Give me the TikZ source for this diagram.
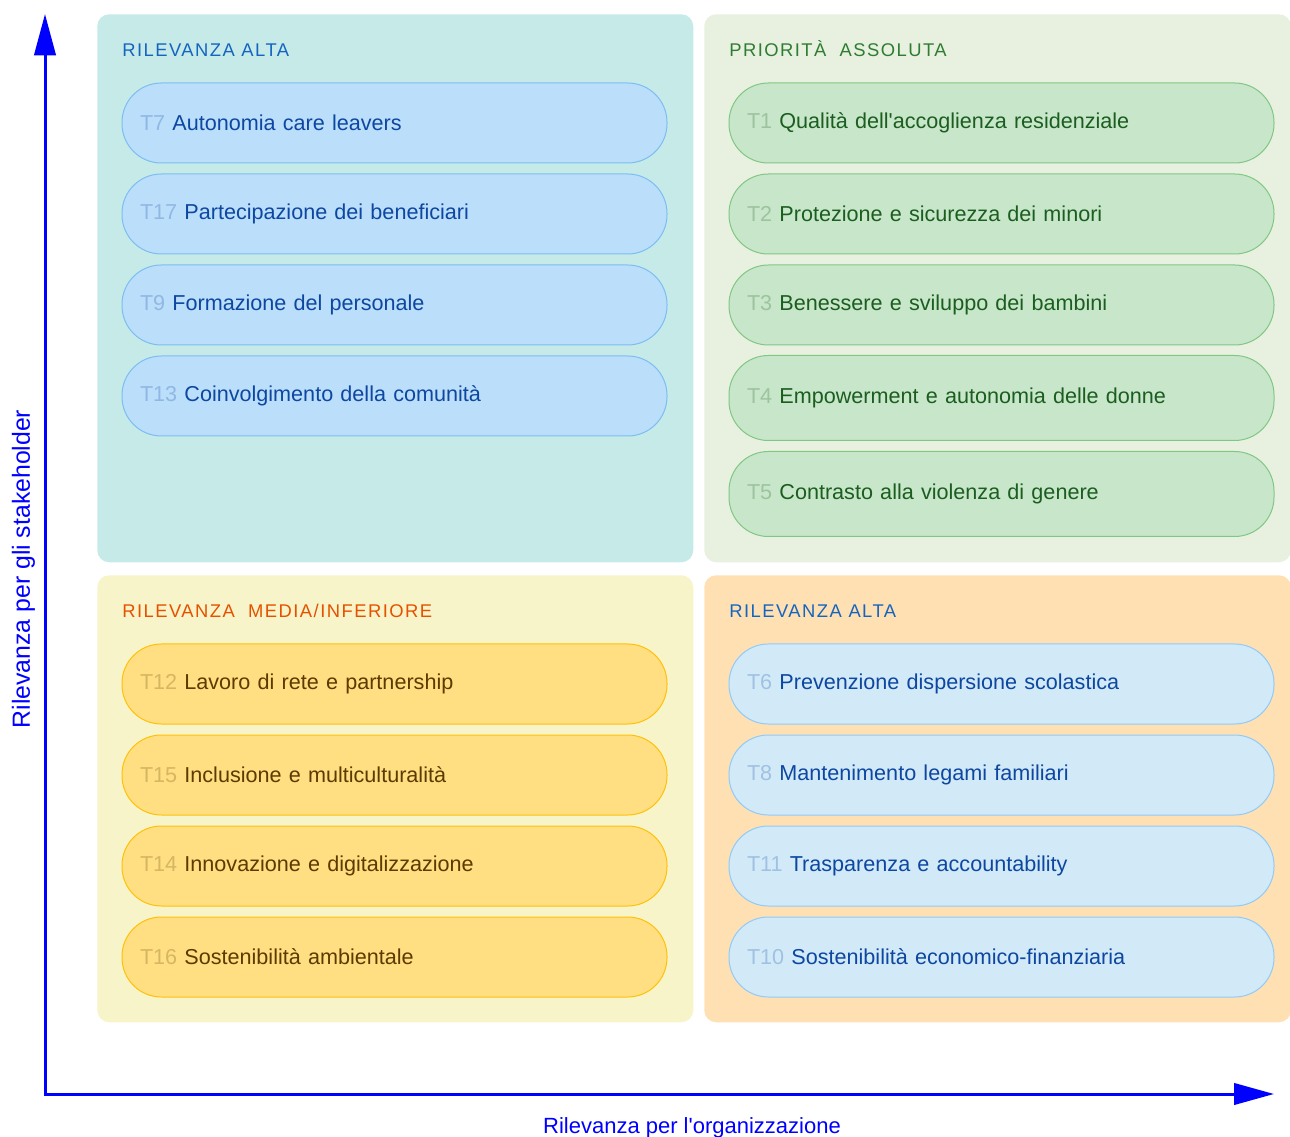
\documentclass[tikz,border=0pt]{standalone}
\usepackage{fontspec}
\setmainfont{Liberation Sans}
\usetikzlibrary{arrows.meta}

\definecolor{axisBlue}{HTML}{0000FF}
\definecolor{tlBack}{HTML}{C6EAE8}
\definecolor{tlFill}{HTML}{BBDEFA}
\definecolor{tlLine}{HTML}{7CBDF3}
\definecolor{tlText}{HTML}{0D47A1}
\definecolor{tlHead}{HTML}{1565C0}
\definecolor{trBack}{HTML}{E8F0DF}
\definecolor{trFill}{HTML}{C8E6C9}
\definecolor{trLine}{HTML}{81C784}
\definecolor{trText}{HTML}{1B5E20}
\definecolor{trHead}{HTML}{2E7D32}
\definecolor{blBack}{HTML}{F8F4C9}
\definecolor{blFill}{HTML}{FFDF82}
\definecolor{blLine}{HTML}{FFC107}
\definecolor{blText}{HTML}{5D3A00}
\definecolor{blHead}{HTML}{E65100}
\definecolor{brBack}{HTML}{FFE0B2}
\definecolor{brFill}{HTML}{D2EAF8}
\definecolor{brLine}{HTML}{90CAF9}
\definecolor{brText}{HTML}{0D47A1}
\definecolor{brHead}{HTML}{1565C0}
\colorlet{tlPre}{tlText!25!tlFill}
\colorlet{trPre}{trText!25!trFill}
\colorlet{blPre}{blText!25!blFill}
\colorlet{brPre}{brText!25!brFill}

\begin{document}
\begin{tikzpicture}[x=0.75pt, y=-0.75pt]
    \tikzstyle{quadrant}=[rectangle, rounded corners=9pt, anchor=north west, inner sep=0pt]
    \tikzstyle{heading}=[anchor=base west, inner sep=0pt, font=\fontsize{13.8}{16}\selectfont\addfontfeature{LetterSpace=8}]
    \tikzstyle{pill}=[rectangle, rounded corners=29.5pt, line width=0.75pt, minimum width=408.75pt, text width=381.75pt, inner xsep=13.5pt, align=left, font=\fontsize{16.2}{20}\selectfont]
    \tikzstyle{axis}=[draw=axisBlue, line width=2.25pt, {Triangle[length=31pt, width=16pt]}-{Triangle[length=30pt, width=16pt]}]
    \tikzstyle{axislabel}=[inner sep=0pt, text=axisBlue, anchor=base]

    \clip (0,0) rectangle (1290,1137);

    % quadrants
    \foreach \name/\x/\y/\w/\h in {tl/97/14/447/411, tr/704/14/440/411, bl/97/575/447/335.25, br/704/575/440/335.25}
    \node[quadrant, fill=\name Back, minimum width=\w pt, minimum height=\h pt] (Q-\name) at (\x,\y) {};

    \node[heading, text=tlHead] (H-tl) at (122,57) {RILEVANZA ALTA};
    \node[heading, text=trHead] (H-tr) at (729,57) {PRIORITÀ\ \ ASSOLUTA};
    \node[heading, text=blHead] (H-bl) at (122,618) {RILEVANZA\ \ MEDIA/INFERIORE};
    \node[heading, text=brHead] (H-br) at (729,618) {RILEVANZA ALTA};

    % topics
    \foreach \name/\q/\x/\y/\h/\txt in {
        7/tl/394.5/123/60/Autonomia care leavers,
        17/tl/394.5/214/60/Partecipazione dei beneficiari,
        9/tl/394.5/305/60/Formazione del personale,
        13/tl/394.5/396/60/Coinvolgimento della comunità,
        1/tr/1001.5/123/60/Qualità dell\textquotesingle{}accoglienza residenziale,
        2/tr/1001.5/214/60/Protezione e sicurezza dei minori,
        3/tr/1001.5/305/60/Benessere e sviluppo dei bambini,
        4/tr/1001.5/398/63.75/Empowerment e autonomia delle donne,
        5/tr/1001.5/494/63.75/Contrasto alla violenza di genere,
        12/bl/394.5/684/60/Lavoro di rete e partnership,
        15/bl/394.5/775/60/Inclusione e multiculturalità,
        14/bl/394.5/866/60/Innovazione e digitalizzazione,
        16/bl/394.5/957/60/Sostenibilità ambientale,
        6/br/1001.5/684/60/Prevenzione dispersione scolastica,
        8/br/1001.5/775/60/Mantenimento legami familiari,
        11/br/1001.5/866/60/Trasparenza e accountability,
        10/br/1001.5/957/60/Sostenibilità economico-finanziaria}
    \node[pill, fill=\q Fill, draw=\q Line, text=\q Text, minimum height=\h pt] (T-\name) at (\x,\y) {\textcolor{\q Pre}{T\name} \txt};

    % axes
    \coordinate (origin) at (45,1094);
    \coordinate (ytip) at (45,14);
    \coordinate (xtip) at (1274,1094);
    \draw[axis] (ytip) -- (origin) -- (xtip);

    \node[axislabel, rotate=90, font=\fontsize{18.6}{20}\selectfont] (ylabel) at (30,569) {Rilevanza per gli stakeholder};
    \node[axislabel, font=\fontsize{16.5}{20}\selectfont] (xlabel) at (692,1133) {Rilevanza per l\textquotesingle{}organizzazione};
\end{tikzpicture}
\end{document}
